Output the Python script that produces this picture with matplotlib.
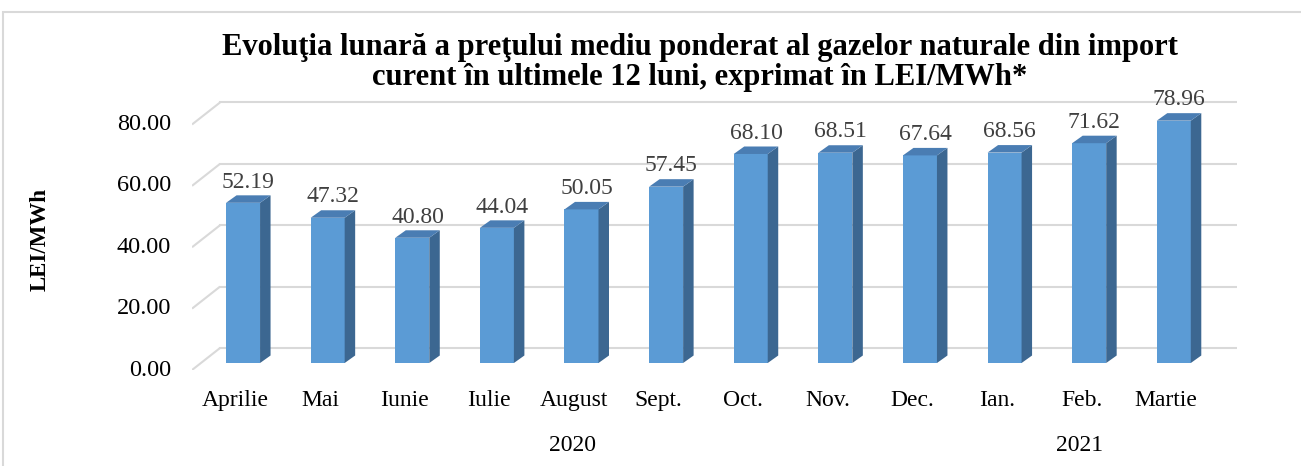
import numpy as np
import matplotlib.pyplot as plt
from matplotlib.patches import Polygon, Rectangle

plt.rcParams['font.family'] = ['Liberation Serif', 'DejaVu Serif']

# data
months = ['Aprilie', 'Mai', 'Iunie', 'Iulie', 'August', 'Sept.', 'Oct.',
          'Nov.', 'Dec.', 'Ian.', 'Feb.', 'Martie']
prices = [52.19, 47.32, 40.80, 44.04, 50.05, 57.45, 68.10,
          68.51, 67.64, 68.56, 71.62, 78.96]
years = ['2020', '2021']
year_of_month = [0, 0, 0, 0, 0, 0, 0, 0, 0, 1, 1, 1]
yticks = [0, 20, 40, 60, 80]
title_lines = ['Evoluţia lunară a preţului mediu ponderat al gazelor naturale din import',
               'curent în ultimele 12 luni, exprimat în LEI/MWh*']

# pseudo 3d look
front_c = '#5b9bd5'
side_c = '#3c6791'
top_c = '#4a7db3'
grid_c = '#d9d9d9'

fig = plt.figure(figsize=(13.01, 4.66), dpi=100)
ax = fig.add_axes([0.1476, 0.206, 0.8032, 0.590])
ax.set_xlim(-0.603, 11.747)
ax.set_ylim(-2.28, 87.3)
ax.axis('off')

px_x = 84.6   # pixels per category
px_y = 3.07   # pixels per unit
bw = 34 / px_x
ddx = 10.5 / px_x
ddy = 7.5 / px_y

# back wall grid + left wall diagonals
wall_dx = 28 / px_x
wall_dy = 22 / px_y
front_off = 7 / px_y
for t in yticks:
    ax.plot([-0.603, -0.603 + wall_dx], [t - front_off, t - front_off + wall_dy],
            color=grid_c, lw=1.5, solid_capstyle='butt')
    ax.plot([-0.603 + wall_dx, 11.747], [t - front_off + wall_dy] * 2,
            color=grid_c, lw=1.5)
    ax.text(-0.603 - 21 / px_x, t - front_off, f'{t:.2f}', ha='right', va='center',
            fontsize=17.5, color='black', clip_on=False)

x = np.arange(len(months))
bars = ax.bar(x, prices, width=bw, color=front_c, zorder=3)
for b, v in zip(bars, prices):
    l = b.get_x()
    r = l + b.get_width()
    side = Polygon([(r, 0), (r + ddx, ddy), (r + ddx, v + ddy), (r, v)],
                   closed=True, facecolor=side_c, edgecolor='none', zorder=3)
    top = Polygon([(l, v), (r, v), (r + ddx, v + ddy), (l + ddx, v + ddy)],
                  closed=True, facecolor=top_c, edgecolor='none', zorder=3)
    ax.add_patch(side)
    ax.add_patch(top)
    ax.annotate(f'{v:.2f}', (l + b.get_width() / 2 + ddx / 2, v + ddy),
                xytext=(0, 2), textcoords='offset points', ha='center',
                va='bottom', fontsize=17, color='#404040')

# category + year labels
for i, m in enumerate(months):
    ax.text(i - 0.09, -2.28 - 31 / px_y, m, ha='center', va='center',
            fontsize=17, clip_on=False)
for k, yr in enumerate(years):
    idx = [i for i, g in enumerate(year_of_month) if g == k]
    ax.text(np.mean(idx) - 0.11, -2.28 - 76 / px_y, yr, ha='center',
            va='center', fontsize=17, clip_on=False)

fig.text(0.031, 0.485, 'LEI/MWh', rotation=90, ha='center', va='center',
         fontsize=16.5, fontweight='bold')
fig.text(0.538, 1 - 47 / 466, title_lines[0], ha='center', va='center',
         fontsize=22, fontweight='bold')
fig.text(0.538, 1 - 77 / 466, title_lines[1], ha='center', va='center',
         fontsize=22, fontweight='bold')

# chart border
fig.patches.append(Rectangle((3 / 1301, -0.1), 1.1, 1 - 12 / 466 + 0.1,
                             transform=fig.transFigure, fill=False,
                             edgecolor=grid_c, lw=1.5))

plt.savefig('out.png', dpi=100)
